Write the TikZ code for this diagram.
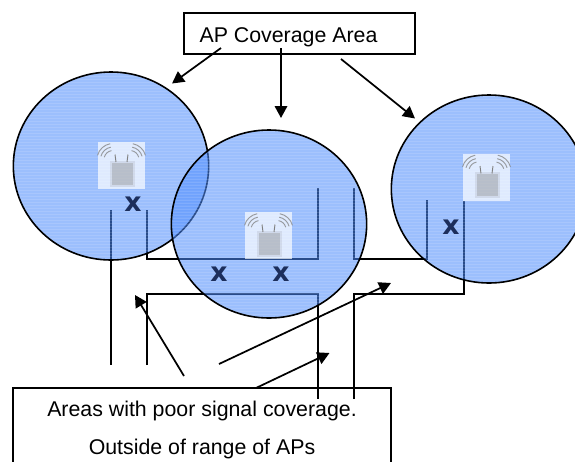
\documentclass[tikz,border=0pt]{standalone}
\usepackage{fontspec}
\setmainfont{Liberation Sans}
\newfontfamily\markfont{DejaVu Sans}
\usetikzlibrary{arrows.meta,shapes.geometric}

\definecolor{coverblue}{rgb}{.29,.54,.99}
\definecolor{marknavy}{rgb}{.11,.18,.36}
\tikzset{
    coverage/.style={ellipse, draw, line width=1.2pt, fill=coverblue, fill opacity=.55, inner sep=0pt,
        minimum width=146.5pt, minimum height=141pt,
        path picture={\foreach \y in {-96,-93,...,96} \draw[white, opacity=.13, line width=.6pt] (-100,\y) -- (100,\y);}},
    labelbox/.style={draw, line width=1.2pt, inner sep=0pt},
    callout/.style={line width=1.3pt, -{Triangle[length=9pt,width=9.4pt]}},
    gapline/.style={line width=1.2pt},
    missmark/.style={inner sep=0pt, text=marknavy, font=\markfont\fontsize{20}{20}\selectfont\bfseries},
    apicon/.pic={
        \fill[white, opacity=.68] (-23.5,-23.5) rectangle (23.5,23.5);
        \foreach \s in {-1,1} {
            \foreach \r in {9,12.5,16} \draw[gray, opacity=.75, line width=.7pt] ({\s*8.5+\r*cos(-90+10*\s)},{-6+\r*sin(-90+10*\s)}) arc[start angle={-90+10*\s}, delta angle={65*\s}, radius=\r];
            \draw[gray, line width=.7pt] (\s*6.5,-11) -- (\s*5.5,-3.5);
        }
        \fill[gray, opacity=.15] (-12,-5) rectangle (13,21);
        \fill[gray, opacity=.3] (-10,-3) rectangle (11,19);
    }
}

\begin{document}
\begin{tikzpicture}[x=.75pt, y=-.75pt]
    \useasboundingbox (0,0) rectangle (575,461);
    \clip (0,0) rectangle (575,461);

    % free ends of the lines around the gaps
    \coordinate (gapa) at (111,210);
    \coordinate (gapb) at (111,365);
    \coordinate (gapc) at (147,210);
    \coordinate (gapd) at (147,259);
    \coordinate (gape) at (318,259);
    \coordinate (gapf) at (318,188);
    \coordinate (gapg) at (354,188);
    \coordinate (gaph) at (354,259);
    \coordinate (gapi) at (427,259);
    \coordinate (gapj) at (427,200);
    \coordinate (gapk) at (147,365);
    \coordinate (gapl) at (147,294);
    \coordinate (gapm) at (318,294);
    \coordinate (gapn) at (318,399);
    \coordinate (gapo) at (354,399);
    \coordinate (gapp) at (354,294);
    \coordinate (gapq) at (464,294);
    \coordinate (gapr) at (464,201);

    \draw[gapline] (gapa) -- (gapb);
    \draw[gapline] (gapc) -- (gapd) -- (gape) -- (gapf);
    \draw[gapline] (gapg) -- (gaph) -- (gapi) -- (gapj);
    \draw[gapline] (gapk) -- (gapl) -- (gapm) -- (gapn);
    \draw[gapline] (gapo) -- (gapp) -- (gapq) -- (gapr);

    \node[coverage] (cellleft) at (111,166) {};
    \node[coverage] (cellmid) at (269,224) {};
    \node[coverage] (cellright) at (489,189) {};

    \node[missmark] (missa) at (133,204) {x};
    \node[missmark] (missb) at (219,274) {x};
    \node[missmark] (missc) at (281,274) {x};
    \node[missmark] (missd) at (451,227) {x};

    \pic at (121.5,165.5) {apicon};
    \pic at (268.5,235.5) {apicon};
    \pic at (486.5,177) {apicon};

    % boxes, then the arrows that leave them
    \node[labelbox, minimum width=173pt, minimum height=30.5pt, text height=14pt, text depth=1.2pt, font=\fontsize{16}{19}\selectfont] (coverlabel) at (299.5,33.5) {\hspace{-16.5pt}AP Coverage Area};
    \node[labelbox, minimum width=283.5pt, minimum height=63pt, align=center, font=\fontsize{16}{19}\selectfont] (poorlabel) at (202,430) {Areas with poor signal coverage.\\[9pt]Outside of range of APs};

    \coordinate (tipa) at (221,48);
    \coordinate (tipb) at (172,83.5);
    \coordinate (tipc) at (281,48);
    \coordinate (tipd) at (281,118);
    \coordinate (tipe) at (341,59);
    \coordinate (tipf) at (415,118.5);
    \coordinate (tipg) at (184,376);
    \coordinate (tiph) at (135,295);
    \coordinate (tipi) at (219,364);
    \coordinate (tipj) at (391,283);
    \coordinate (tipk) at (256,388);
    \coordinate (tipl) at (329.5,353);

    \draw[callout] (tipa) -- (tipb);
    \draw[callout] (tipc) -- (tipd);
    \draw[callout] (tipe) -- (tipf);
    \draw[callout] (tipg) -- (tiph);
    \draw[callout] (tipi) -- (tipj);
    \draw[callout] (tipk) -- (tipl);
\end{tikzpicture}
\end{document}
